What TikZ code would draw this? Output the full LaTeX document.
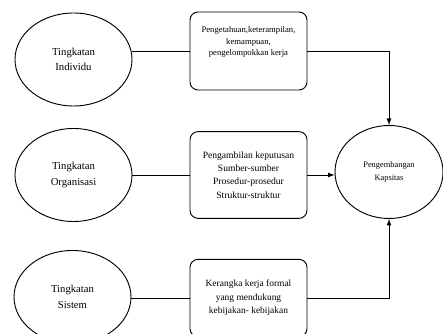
\documentclass[tikz,border=0pt]{standalone}
\usepackage{fontspec}
\setmainfont{Liberation Serif}
\usetikzlibrary{shapes,arrows}

\begin{document}
\begin{tikzpicture}[x=0.75pt,y=-0.75pt,line width=0.7pt,
    tingkat/.style={draw, ellipse, inner sep=0pt, minimum width=87.75pt, minimum height=69.75pt, align=center, font=\fontsize{8}{11.5}\selectfont},
    kotak/.style={draw, rounded corners=6pt, inner sep=0pt, minimum width=87.75pt, align=center}]
\useasboundingbox (0,0) rectangle (443,334);
\clip (0,0) rectangle (443,334);
% tingkatan
\node[tingkat] (ind) at (73.5,59.5) {Tingkatan\\Individu};
\node[tingkat] (org) at (73.5,175) {Tingkatan\\Organisasi};
\node[tingkat] (sis) at (72.5,297) {Tingkatan\\Sistem};
% isi
\node[kotak, minimum height=58.5pt, font=\fontsize{6.5}{8.8}\selectfont] (b1) at (248.5,51) {Pengetahuan,keterampilan,\\kemampuan,\\pengelompokkan kerja\\[6pt]};
\node[kotak, minimum height=65pt, font=\fontsize{7.2}{10}\selectfont] (b2) at (248.5,175) {Pengambilan keputusan\\Sumber-sumber\\Prosedur-prosedur\\Struktur-struktur};
\node[kotak, minimum height=58pt, font=\fontsize{7.1}{10}\selectfont] (b3) at (248.5,298) {Kerangka kerja formal\\yang mendukung\\kebijakan- kebijakan};
% tujuan
\node[draw, ellipse, inner sep=0pt, minimum width=81pt, minimum height=69.75pt, align=center, font=\fontsize{6.3}{10}\selectfont] (peng) at (389,172) {Pengembangan\\Kapsitas};
% garis
\draw (ind.east |- b1.west) -- (b1.west);
\draw (org) -- (b2);
\draw (sis.east |- b3.west) -- (b3.west);
\draw[-latex] (b1.east) -| (peng.north);
\draw[-latex] (b2.east) -- (peng.west |- b2.east);
\draw[-latex] (b3.east) -| (peng.south);
\end{tikzpicture}
\end{document}
